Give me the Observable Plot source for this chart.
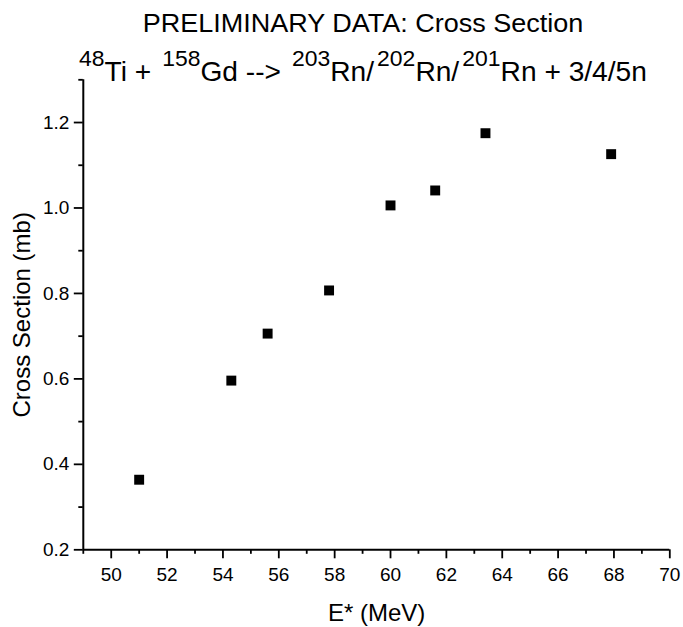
<!DOCTYPE html>
<html>
<head>
<meta charset="utf-8">
<script src="https://cdn.jsdelivr.net/npm/d3@7"></script>
<script src="https://cdn.jsdelivr.net/npm/@observablehq/plot@0.6"></script>
<style>
  html, body { margin: 0; padding: 0; background: #fff; }
  #chart { width: 683px; height: 627px; }
  #chart svg g[aria-label$="tick label"] { font-size: 19px; }
  #chart svg g[aria-label$="tick label"] text { font-size: 19px; }
</style>
</head>
<body>
<div id="chart"></div>
<script>
// ---- data ----
const energy = [51.0, 54.3, 55.6, 57.8, 60.0, 61.6, 63.4, 67.9];
const crossSection = [0.364, 0.596, 0.706, 0.807, 1.006, 1.041, 1.175, 1.126];
const xMajorTicks = [50, 52, 54, 56, 58, 60, 62, 64, 66, 68, 70];
const xMinorTicks = [49, 51, 53, 55, 57, 59, 61, 63, 65, 67, 69];
const yMajorTicks = [0.2, 0.4, 0.6, 0.8, 1.0, 1.2];
const yMinorTicks = [0.3, 0.5, 0.7, 0.9, 1.1, 1.3];
const titleText = "PRELIMINARY DATA: Cross Section";
const subtitleParts = [
  ["48", true], ["Ti + ", false], ["158", true], ["Gd --> ", false],
  ["203", true], ["Rn/", false], ["202", true], ["Rn/", false],
  ["201", true], ["Rn + 3/4/5n", false]
];
const xLabel = "E* (MeV)";
const yLabel = "Cross Section (mb)";

const data = energy.map((e, i) => ({ e, cs: crossSection[i] }));
const font = "'Liberation Sans', Arial, sans-serif";

const svg = Plot.plot({
  width: 683,
  height: 627,
  marginLeft: 82.8,
  marginRight: 13.7,
  marginTop: 79.3,
  marginBottom: 77.7,
  style: { fontFamily: font, fontSize: "19px", color: "#000", background: "#fff" },
  x: { domain: [49, 70] },
  y: { domain: [0.2, 1.3] },
  marks: [
    Plot.axisX({ ticks: xMinorTicks, tickSize: 4.5, tickFormat: () => "", strokeWidth: 1.8, label: null }),
    Plot.axisX({ ticks: xMajorTicks, tickSize: 9, tickPadding: 9, tickFormat: d => String(d), strokeWidth: 1.8, label: null, fill: "#000", fontSize: 19 }),
    Plot.axisY({ ticks: yMinorTicks, tickSize: 4.5, tickFormat: () => "", strokeWidth: 1.8, label: null }),
    Plot.axisY({ ticks: yMajorTicks, tickSize: 9, tickPadding: 5, tickFormat: d3.format(".1f"), strokeWidth: 1.8, label: null, fill: "#000", fontSize: 19 }),
    Plot.ruleY([0.2], { strokeWidth: 2, stroke: "#000" }),
    Plot.ruleX([49], { strokeWidth: 2, stroke: "#000" }),
    Plot.dot(data, { x: "e", y: "cs", symbol: "square", r: 5.6, fill: "#000", stroke: "none" }),
    Plot.text([xLabel], { frameAnchor: "bottom", dy: 71, lineAnchor: "bottom", textAnchor: "middle", fontSize: 24, fill: "#000" }),
    Plot.text([yLabel], { frameAnchor: "left", dx: -61, rotate: -90, lineAnchor: "middle", textAnchor: "middle", fontSize: 24, fill: "#000" })
  ]
});

const s = d3.select(svg);
s.append("text")
  .attr("x", 142.7).attr("y", 31.5)
  .attr("text-anchor", "start")
  .attr("font-family", font).attr("font-size", 25)
  .attr("textLength", 440.6).attr("lengthAdjust", "spacingAndGlyphs")
  .attr("fill", "#000")
  .text(titleText);

// subtitle: natural width stretched to reference width via horizontal scale
const sub = s.append("text")
  .attr("x", 0).attr("y", 81)
  .attr("text-anchor", "start")
  .attr("font-family", font)
  .attr("fill", "#000");
subtitleParts.forEach(([t, sup], i) => {
  sub.append("tspan")
    .attr("y", sup ? 66 : 81)
    .attr("dx", sup && i > 0 ? 3 : 0)
    .attr("font-size", sup ? 22 : 27)
    .text(t);
});

document.getElementById("chart").appendChild(svg);
const natural = sub.node().getComputedTextLength() + 12;
const k = 568 / natural;
sub.attr("transform", `translate(79,0) scale(${k},1)`);
</script>
</body>
</html>
